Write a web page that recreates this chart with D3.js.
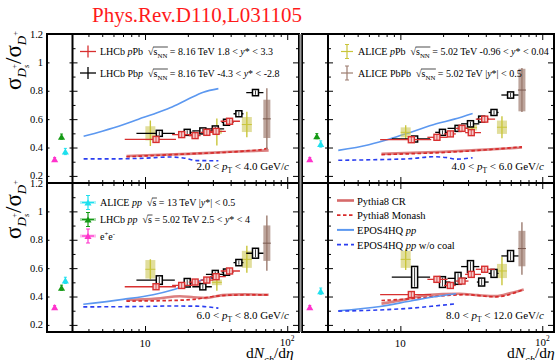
<!DOCTYPE html>
<html><head><meta charset="utf-8">
<script src="https://cdn.jsdelivr.net/npm/d3@7"></script>
<style>body{margin:0;background:#fff}svg{display:block}text{white-space:pre;font-family:"Liberation Serif","DejaVu Serif",serif}</style>
</head><body><svg id="c" width="555" height="360"></svg>
<script>
// ================= DATA =================
const titleText = "Phys.Rev.D110,L031105";
const yMajorTicks = [0.2, 0.4, 0.6, 0.8, 1, 1.2];
const yMinorTicks = [0.3, 0.5, 0.7, 0.9, 1.1];
const yTickLabels = ["0.2", "0.4", "0.6", "0.8", "1", "1.2"];
const xMajorTicks = [10, 100];
const xMinorTicks = [4, 5, 6, 7, 8, 9, 20, 30, 40, 50, 60, 70, 80, 90];
const ptRanges = [["2.0", "4.0"], ["4.0", "6.0"], ["6.0", "8.0"], ["8.0", "12.0"]];

// LHCb pPb (red), x bins shared by all pT panels
const lhcbPPbX   = [11.95, 18.1, 22.5, 27.2, 31.6, 39.3];
const lhcbPPbXlo = [7.2, 15.5, 20.3, 24.6, 28.6, 34.0];
const lhcbPPbXhi = [16.5, 21.5, 24.6, 30.2, 37.0, 46.5];
const lhcbPPbY = [
  [0.457, 0.491, 0.484, 0.507, 0.514, 0.585],
  [0.455, 0.472, 0.496, 0.535, 0.505, 0.600],
  [0.469, 0.478, 0.502, 0.516, 0.540, 0.580],
  [0.414, 0.521, 0.478, 0.509, 0.556, 0.592]];
const lhcbPPbSys = [
  [0.012, 0.012, 0.012, 0.012, 0.012, 0.014],
  [0.012, 0.012, 0.012, 0.012, 0.012, 0.014],
  [0.014, 0.014, 0.014, 0.014, 0.015, 0.015],
  [0.018, 0.018, 0.018, 0.018, 0.018, 0.018]];

// LHCb Pbp (black)
const lhcbPbpX   = [12.6, 19.8, 25.5, 31.2, 37.4, 45.7, 59.8];
const lhcbPbpXlo = [8.7, 17.6, 21.5, 26.8, 34.6, 41.9, 51.5];
const lhcbPbpXhi = [16.2, 22.5, 29.5, 36.0, 41.9, 49.2, 68.0];
const lhcbPbpY = [
  [0.500, 0.507, 0.517, 0.531, 0.578, 0.638, 0.787],
  [0.460, 0.507, 0.535, 0.567, 0.600, 0.647, 0.770],
  [0.516, 0.497, 0.469, 0.556, 0.572, 0.639, 0.705],
  [0.537, 0.502, 0.528, 0.611, 0.502, 0.563, 0.686]];
const lhcbPbpSys = [
  [0.018, 0.018, 0.018, 0.018, 0.018, 0.018, 0.022],
  [0.018, 0.018, 0.018, 0.022, 0.018, 0.018, 0.022],
  [0.03, 0.03, 0.022, 0.028, 0.022, 0.022, 0.035],
  [0.075, 0.038, 0.042, 0.042, 0.028, 0.028, 0.038]];

// ALICE pPb (yellow)
const alicePPbX = [10.9, 32, 52];
const alicePPbY    = [[0.50, 0.51, 0.562], [0.507, 0.54, 0.543], [0.592, 0.50, 0.662], [0.662, null, 0.58]];
const alicePPbStat = [[0.09, 0.095, 0.09], [0.05, 0.05, 0.077], [0.07, 0.06, 0.095], [0.075, null, 0.10]];
const alicePPbSys  = [[0.05, 0.015, 0.053], [0.035, 0.02, 0.047], [0.065, 0.02, 0.06], [0.06, null, 0.05]];

// ALICE PbPb (brown)
const alicePbPbX = [71.9];
const alicePbPbY    = [[0.602], [0.805], [0.776], [0.738]];
const alicePbPbStat = [[0.215], [0.155], [0.195], [0.185]];
const alicePbPbSys  = [[0.135], [0.15], [0.125], [0.125]];

// reference points in the narrow left strips: e+e-, LHCb pp 5.02, ALICE pp 13
const eeY       = [0.318, 0.318, 0.325, 0.325];
const lhcbPpY   = [0.477, 0.480, 0.462, null];
const alicePpY  = [0.372, 0.425, 0.514, 0.438];
const refErr    = [0.012, 0.018, 0.022];

// model curves, [dNch/deta, ratio]
const eposPP = [
  [[3.7,0.48],[5,0.515],[7,0.56],[9,0.6],[11.4,0.635],[15,0.68],[20,0.74],[25.7,0.79],[32.8,0.815]],
  [[3.65,0.38],[6,0.42],[8.4,0.46],[12,0.51],[17.9,0.567],[24,0.6],[32.3,0.64]],
  [[3.68,0.345],[7,0.38],[11.4,0.413],[16,0.45],[24,0.51],[30,0.535]],
  [[3.65,0.3],[7.2,0.33],[12.3,0.372],[18,0.4],[24.7,0.42]]];
const eposNoCoal = [
  [[3.7,0.32],[6,0.32],[10,0.325],[15,0.333],[19,0.325],[23,0.308],[32.8,0.307]],
  [[3.65,0.31],[7.2,0.315],[12,0.322],[16.9,0.335],[21,0.33],[24.7,0.318],[32.3,0.328]],
  [[3.68,0.327],[10,0.33],[15,0.333],[23,0.332],[32.8,0.318]],
  [[3.65,0.297],[7,0.305],[12,0.318],[18,0.335],[24,0.348]]];
const pythiaCR = [
  [[7.4,0.34],[20,0.355],[40,0.37],[74,0.38]],
  [[7.36,0.355],[20,0.37],[40,0.385],[72,0.4]],
  [[7.4,0.375],[12,0.385],[17.6,0.402],[22,0.395],[27,0.39],[35,0.41],[50,0.415],[74,0.412]],
  [[7.36,0.35],[11,0.38],[15.2,0.41],[26,0.42],[35,0.41],[47,0.403],[60,0.425],[74,0.45]]];
const pythiaMonash = [
  [[7.4,0.335],[20,0.355],[50,0.375],[70,0.39],[74,0.4]],
  [[7.36,0.35],[30,0.375],[72,0.405]],
  [[7.4,0.368],[15,0.372],[22,0.38],[30,0.4],[40,0.41],[74,0.412]],
  [[7.36,0.372],[12,0.385],[17,0.4],[29,0.413],[47,0.398],[74,0.45]]];

// ================= STYLE / LAYOUT =================
const FONT = "Liberation Serif, DejaVu Serif, serif";
const C = {red:"#d83030", black:"#000", yellow:"#c9c53a", yellowBox:"rgba(205,200,90,0.6)",
  brown:"#9c7c70", brownBox:"rgba(160,125,112,0.7)", epos:"#5c98f0", noCoal:"#2a3ef0",
  cr:"#d66a6a", monash:"#d82a2a", cyan:"#1ee0ee", green:"#149a14", magenta:"#ff33cc"};
const cols = [{n0:47, d:72.5, r:299}, {n0:302, d:328, r:554}];
const rows = [{t:34, b:183}, {t:183, b:332}];
const svg = d3.select("#c");

function rich(g, x, y, parts, size, anchor, color) {
  const t = g.append("text").attr("x", x).attr("y", y).attr("font-size", size)
    .style("font-family", FONT).attr("text-anchor", anchor || "start").attr("fill", color || "#000");
  let cur = 0; const ovs = [];
  parts.forEach(p => {
    const [s, st] = Array.isArray(p) ? p : [p, ""];
    const f = st.split(" ");
    const ts = t.append("tspan").text(s);
    let off = 0, fs = size;
    if (f.includes("sub")) { off = size * 0.3; fs = size * 0.68; }
    if (f.includes("sup")) { off = -size * 0.38; fs = size * 0.68; }
    if (f.includes("i")) ts.attr("font-style", "italic");
    ts.attr("dy", off - cur).attr("font-size", fs);
    cur = off;
    if (f.includes("ov")) ovs.push(ts);
  });
  if (ovs.length) {
    let a = Infinity, b = -Infinity;
    ovs.forEach(ts => { const bb = ts.node().getBBox(); a = Math.min(a, bb.x); b = Math.max(b, bb.x + bb.width); });
    const yy = y - size * 0.8;
    g.append("line").attr("x1", a - 0.5).attr("x2", b + 0.5).attr("y1", yy).attr("y2", yy)
      .attr("stroke", "#000").attr("stroke-width", 0.7);
  }
  return t;
}

// title
svg.append("text").attr("x", 197).attr("y", 22).attr("text-anchor", "middle")
  .style("font-family", FONT).attr("font-size", 21).attr("fill", "#ff1a1a").text(titleText);

const refX = d3.scaleLinear().domain([0, 1]);
const refCats = [0.3, 0.57, 0.72];

for (let i = 0; i < 4; i++) {
  const col = cols[i % 2], row = rows[Math.floor(i / 2)];
  const x = d3.scaleLog().domain([3.09, 121]).range([col.d, col.r]);
  const y = d3.scaleLinear().domain([0.15, 1.2]).range([row.b, row.t]);
  const rx = refX.copy().range([col.n0, col.d]);
  const g = svg.append("g");
  const clipId = "clip" + i;
  svg.append("clipPath").attr("id", clipId).append("rect")
    .attr("x", col.d).attr("y", row.t).attr("width", col.r - col.d).attr("height", row.b - row.t);
  const gc = g.append("g").attr("clip-path", `url(#${clipId})`);

  // model curves
  const line = d3.line().x(d => x(d[0])).y(d => y(d[1])).curve(d3.curveMonotoneX);
  gc.append("path").attr("d", line(pythiaCR[i])).attr("fill", "none").attr("stroke", C.cr).attr("stroke-width", 2.6).attr("opacity", 0.85);
  gc.append("path").attr("d", line(pythiaMonash[i])).attr("fill", "none").attr("stroke", C.monash).attr("stroke-width", 1.7).attr("stroke-dasharray", "3.5,2.5");
  gc.append("path").attr("d", line(eposPP[i])).attr("fill", "none").attr("stroke", C.epos).attr("stroke-width", 1.6);
  gc.append("path").attr("d", line(eposNoCoal[i])).attr("fill", "none").attr("stroke", C.noCoal).attr("stroke-width", 1.6).attr("stroke-dasharray", "4,3");

  // ALICE pPb
  alicePPbX.forEach((xv, k) => {
    const v = alicePPbY[i][k]; if (v == null) return;
    const s = alicePPbSys[i][k], e = alicePPbStat[i][k], px = x(xv);
    gc.append("rect").attr("x", px - 5).attr("width", 10).attr("y", y(v + s)).attr("height", y(v - s) - y(v + s)).attr("fill", C.yellowBox);
    gc.append("line").attr("x1", px).attr("x2", px).attr("y1", y(v + e)).attr("y2", y(v - e)).attr("stroke", C.yellow).attr("stroke-width", 1.4);
    gc.append("line").attr("x1", px - 5).attr("x2", px + 5).attr("y1", y(v)).attr("y2", y(v)).attr("stroke", C.yellow).attr("stroke-width", 1);
  });
  // ALICE PbPb
  alicePbPbX.forEach((xv, k) => {
    const v = alicePbPbY[i][k], s = alicePbPbSys[i][k], e = alicePbPbStat[i][k], px = x(xv);
    gc.append("rect").attr("x", px - 3.5).attr("width", 7).attr("y", y(v + s)).attr("height", y(v - s) - y(v + s)).attr("fill", C.brownBox);
    gc.append("line").attr("x1", px).attr("x2", px).attr("y1", y(v + e)).attr("y2", y(v - e)).attr("stroke", C.brown).attr("stroke-width", 1.4);
    gc.append("line").attr("x1", px - 4).attr("x2", px + 4).attr("y1", y(v)).attr("y2", y(v)).attr("stroke", "#7a5a50").attr("stroke-width", 1);
  });
  // LHCb Pbp (black)
  lhcbPbpX.forEach((xv, k) => {
    const v = lhcbPbpY[i][k], s = lhcbPbpSys[i][k], px = x(xv);
    gc.append("line").attr("x1", x(lhcbPbpXlo[k])).attr("x2", x(lhcbPbpXhi[k])).attr("y1", y(v)).attr("y2", y(v)).attr("stroke", C.black).attr("stroke-width", 1.3);
    const h = Math.max(6, y(v - s) - y(v + s));
    gc.append("rect").attr("x", px - 3).attr("width", 6).attr("y", y(v) - h / 2).attr("height", h)
      .attr("fill", "#fff").attr("stroke", C.black).attr("stroke-width", 1.5);
    gc.append("line").attr("x1", px).attr("x2", px).attr("y1", y(v) - h / 2 + 1).attr("y2", y(v) + h / 2 - 1).attr("stroke", C.black).attr("stroke-width", 0.8);
  });
  // LHCb pPb (red)
  lhcbPPbX.forEach((xv, k) => {
    const v = lhcbPPbY[i][k], s = lhcbPPbSys[i][k], px = x(xv);
    gc.append("line").attr("x1", x(lhcbPPbXlo[k])).attr("x2", x(lhcbPPbXhi[k])).attr("y1", y(v)).attr("y2", y(v)).attr("stroke", C.red).attr("stroke-width", 1.3);
    const h = Math.max(6, y(v - s) - y(v + s));
    gc.append("rect").attr("x", px - 3).attr("width", 6).attr("y", y(v) - h / 2).attr("height", h)
      .attr("fill", "#f3caca").attr("stroke", C.red).attr("stroke-width", 1.4);
    gc.append("line").attr("x1", px).attr("x2", px).attr("y1", y(v) - h / 2).attr("y2", y(v) + h / 2).attr("stroke", C.red).attr("stroke-width", 0.8);
  });

  // reference strip points
  const tri = d3.symbol().type(d3.symbolTriangle).size(22);
  [[eeY, C.magenta], [lhcbPpY, C.green], [alicePpY, C.cyan]].forEach(([arr, c], k) => {
    const v = arr[i]; if (v == null) return;
    const px = rx(refCats[k]), e = refErr[k];
    g.append("line").attr("x1", px).attr("x2", px).attr("y1", y(v + e)).attr("y2", y(v - e)).attr("stroke", c).attr("stroke-width", 1);
    [v + e, v - e].forEach(t => g.append("line").attr("x1", px - 1.5).attr("x2", px + 1.5).attr("y1", y(t)).attr("y2", y(t)).attr("stroke", c));
    g.append("path").attr("d", tri()).attr("transform", `translate(${px},${y(v) + 1})`).attr("fill", c);
  });

  // frames
  g.append("rect").attr("x", col.n0).attr("y", row.t).attr("width", col.r - col.n0).attr("height", row.b - row.t)
    .attr("fill", "none").attr("stroke", "#000").attr("stroke-width", 2);
  g.append("line").attr("x1", col.d).attr("x2", col.d).attr("y1", row.t).attr("y2", row.b).attr("stroke", "#000").attr("stroke-width", 2);

  // ticks via d3 axes
  const ax = (gen, tr, vals, size) => {
    const a = g.append("g").attr("transform", tr).call(gen.tickValues(vals).tickSize(size).tickFormat(""));
    a.select(".domain").remove();
    a.selectAll("line").attr("stroke", "#000").attr("stroke-width", 1);
  };
  ax(d3.axisBottom(x), `translate(0,${row.b})`, xMajorTicks, -6);
  ax(d3.axisBottom(x), `translate(0,${row.b})`, xMinorTicks, -3);
  ax(d3.axisTop(x), `translate(0,${row.t})`, xMajorTicks, -6);
  ax(d3.axisTop(x), `translate(0,${row.t})`, xMinorTicks, -3);
  const yMaj = yMajorTicks.filter(v => y(v) > row.t + 1);
  ax(d3.axisLeft(y), `translate(${col.d},0)`, yMaj, -5);
  ax(d3.axisLeft(y), `translate(${col.d},0)`, yMinorTicks, -3);
  ax(d3.axisLeft(y), `translate(${col.d},0)`, yMaj, 3);
  ax(d3.axisRight(y), `translate(${col.r},0)`, yMaj, -6);
  ax(d3.axisRight(y), `translate(${col.r},0)`, yMinorTicks, -3);
  ax(d3.axisLeft(y), `translate(${col.n0},0)`, yMaj, -2.5);

  // y tick labels (left column only)
  if (i % 2 === 0) {
    yMajorTicks.forEach((v, k) => {
      g.append("text").attr("x", col.n0 - 4).attr("y", y(v) + 3.5).attr("text-anchor", "end")
        .style("font-family", FONT).attr("font-size", 10.5).text(yTickLabels[k]);
    });
    // y title
    const yt = svg.append("text").attr("transform", `translate(21,${row.t - 3}) rotate(-90)`)
      .attr("text-anchor", "end").style("font-family", FONT).attr("font-size", 23);
    yt.append("tspan").text("σ");
    yt.append("tspan").attr("font-size", 13).attr("font-style", "italic").attr("dy", 5).text("D");
    yt.append("tspan").attr("font-size", 8.5).attr("font-style", "italic").attr("dy", 3).text("s");
    yt.append("tspan").attr("font-size", 8.5).attr("dx", -4).attr("dy", -12).text("+");
    yt.append("tspan").attr("dy", 4).text("/σ");
    yt.append("tspan").attr("font-size", 13).attr("font-style", "italic").attr("dy", 5).text("D");
    yt.append("tspan").attr("font-size", 8.5).attr("dy", -8).text("+");
  }
  // x tick labels + title (bottom row)
  if (row === rows[1]) {
    g.append("text").attr("x", x(10)).attr("y", 347).attr("text-anchor", "middle").style("font-family", FONT).attr("font-size", 11).text("10");
    const t2 = g.append("text").attr("x", x(100)).attr("y", 346).attr("text-anchor", "middle").style("font-family", FONT).attr("font-size", 11);
    t2.append("tspan").text("10"); t2.append("tspan").attr("font-size", 7.5).attr("dy", -5).text("2");
    rich(g, col === cols[0] ? 246 : 507, 358, ["d", ["N", "i"], ["ch", "sub i"], "/d", ["η", "i"]], 15.5);
  }
  // pT label
  const [lo, hi] = ptRanges[i];
  rich(g, col.r - 10, row.b - 13, [lo + " < ", ["p", "i"], ["T", "sub"], " < " + hi + " GeV/", ["c", "i"]], 11, "end");
}

// gray seam between columns
svg.append("rect").attr("x", 299.5).attr("y", 34).attr("width", 2).attr("height", 298).attr("fill", "#999");

// ================= LEGENDS =================
const lg = svg.append("g");
function crossMark(px, py, c) {
  lg.append("line").attr("x1", px - 8).attr("x2", px + 8).attr("y1", py).attr("y2", py).attr("stroke", c).attr("stroke-width", 1.3);
  lg.append("line").attr("x1", px).attr("x2", px).attr("y1", py - 6).attr("y2", py + 6).attr("stroke", c).attr("stroke-width", 1.3);
}
function capMark(px, py, c) {
  lg.append("line").attr("x1", px - 6).attr("x2", px + 6).attr("y1", py).attr("y2", py).attr("stroke", c).attr("stroke-width", 1.2);
  lg.append("line").attr("x1", px).attr("x2", px).attr("y1", py - 7).attr("y2", py + 7).attr("stroke", c).attr("stroke-width", 1.2);
  [py - 7, py + 7].forEach(t => lg.append("line").attr("x1", px - 2).attr("x2", px + 2).attr("y1", t).attr("y2", t).attr("stroke", c));
}
function triMark(px, py, c) {
  lg.append("line").attr("x1", px - 8).attr("x2", px + 8).attr("y1", py).attr("y2", py).attr("stroke", c).attr("stroke-width", 3).attr("opacity", 0.35);
  capMark(px, py, c);
  lg.append("path").attr("d", d3.symbol().type(d3.symbolTriangle).size(22)()).attr("transform", `translate(${px},${py + 1})`).attr("fill", c);
}
const LS = 10;
crossMark(88, 51.5, C.red);
rich(lg, 100, 55, ["LHCb ", ["p", "i"], "Pb  √", ["s", "ov"], ["NN", "sub ov"], " = 8.16 TeV 1.8 < ", ["y", "i"], "* < 3.3"], LS);
crossMark(88, 73, C.black);
rich(lg, 100, 77, ["LHCb Pb", ["p", "i"], "  √", ["s", "ov"], ["NN", "sub ov"], " = 8.16 TeV -4.3 < ", ["y", "i"], "* < -2.8"], LS);
capMark(347, 51.5, C.yellow);
rich(lg, 358, 55, ["ALICE ", ["p", "i"], "Pb  √", ["s", "ov"], ["NN", "sub ov"], " = 5.02 TeV -0.96 < ", ["y", "i"], "* < 0.04"], LS);
capMark(347, 73, C.brown);
rich(lg, 358, 77, ["ALICE PbPb  √", ["s", "ov"], ["NN", "sub ov"], " = 5.02 TeV |", ["y", "i"], "*| < 0.5"], LS);
triMark(88, 202.5, C.cyan);
rich(lg, 100, 206, ["ALICE ", ["pp", "i"], "  √", ["s", "ov"], " = 13 TeV |", ["y", "i"], "*| < 0.5"], LS);
triMark(88, 219.5, C.green);
rich(lg, 100, 223, ["LHCb ", ["pp", "i"], "  √", ["s", "ov"], " = 5.02 TeV 2.5 < ", ["y", "i"], "* < 4"], LS);
triMark(88, 236, C.magenta);
rich(lg, 100, 239.5, ["e", ["+", "sup"], "e", ["-", "sup"]], LS);

const lineLeg = [["cr", null, 2.6], ["monash", "3.5,2.5", 1.7], ["epos", null, 2], ["noCoal", "4,3", 1.7]];
const lineLegText = [["Pythia8 CR"], ["Pythia8 Monash"], ["EPOS4HQ ", ["pp", "i"]], ["EPOS4HQ ", ["pp", "i"], " w/o coal"]];
lineLeg.forEach(([c, dash, w], k) => {
  const py = 200.5 + k * 14.7;
  const l = lg.append("line").attr("x1", 337).attr("x2", 354).attr("y1", py).attr("y2", py).attr("stroke", C[c]).attr("stroke-width", w);
  if (dash) l.attr("stroke-dasharray", dash);
  rich(lg, 357, py + 4, lineLegText[k], 10.5);
});
</script></body></html>
